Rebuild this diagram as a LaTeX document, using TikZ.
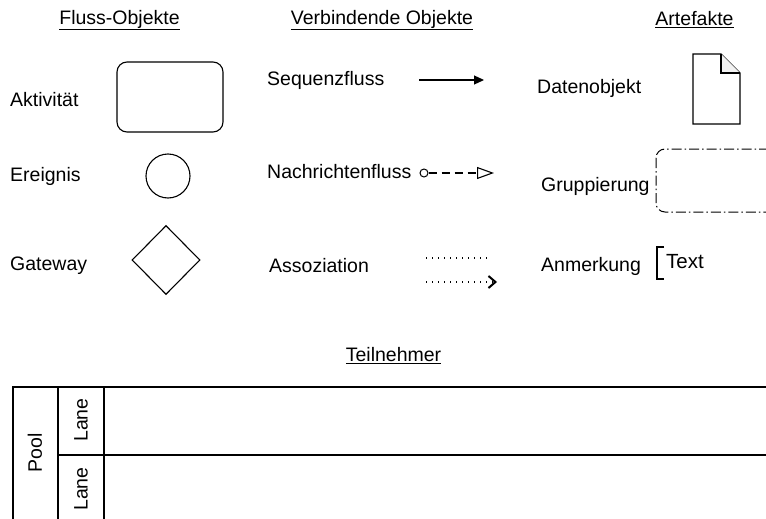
\documentclass[tikz,border=0pt]{standalone}
\usepackage{fontspec}
\setmainfont{Liberation Sans}
\usetikzlibrary{arrows.meta,shapes.geometric}
\begin{document}
\begin{tikzpicture}[x=1pt,y=-1pt,
  lbl/.style={anchor=west,inner sep=0pt,font=\fontsize{19.5}{22}\selectfont},
  hdr/.style={anchor=center,inner sep=0pt,font=\fontsize{19.5}{22}\selectfont},
  shp/.style={draw,line width=1.1pt},
  thin/.style={line width=1.1pt}]
\useasboundingbox (0,0) rectangle (766,519);
\clip (0,0) rectangle (766,519);
% headers
\node[hdr] (h1) at (119.5,20) {\underline{Fluss-Objekte}};
\node[hdr] (h2) at (382,20) {\underline{Verbindende Objekte}};
\node[hdr] (h3) at (694.5,20) {\underline{Artefakte}};
% flow objects
\node[lbl] (akt) at (10,100) {Aktivität};
\node[shp,rounded corners=10pt,minimum width=106pt,minimum height=70pt,inner sep=0pt] (task) at (170,97) {};
\node[lbl] (ere) at (10,176) {Ereignis};
\node[shp,circle,minimum size=44pt,inner sep=0pt] (event) at (168,176) {};
\node[lbl] (gat) at (10,266) {Gateway};
\node[shp,diamond,minimum width=68pt,minimum height=69pt,inner sep=0pt] (gw) at (166,260) {};
% connecting objects
\node[lbl] (seq) at (267,80) {Sequenzfluss};
\coordinate (seqA) at (419,80);
\coordinate (seqB) at (484,80);
\draw[thin,-{Triangle[length=10pt,width=9pt]}] (seqA) -- (seqB);
\node[lbl] (nach) at (267,172) {Nachrichtenfluss};
\node[draw,circle,line width=1pt,minimum size=8pt,inner sep=0pt] (msgA) at (424,173) {};
\coordinate (msgB) at (494,173);
\draw[thin,dash pattern=on 8pt off 5pt,-{Triangle[open,length=17pt,width=12pt,line width=1.1pt]}] (msgA) -- (msgB);
\node[lbl] (ass) at (269,266) {Assoziation};
\coordinate (asA) at (426,258);
\coordinate (asB) at (491,258);
\coordinate (asC) at (426,282);
\coordinate (asD) at (497,282);
\draw[line width=1.5pt,dash pattern=on 1.3pt off 4.7pt] (asA) -- (asB);
\draw[line width=1.5pt,dash pattern=on 1.3pt off 4.7pt,-{Straight Barb[length=7pt,width=12pt,line width=2pt]}] (asC) -- (asD);
% artifacts
\node[lbl] (dat) at (537,88) {Datenobjekt};
\coordinate (d1) at (693,54);
\coordinate (d2) at (721,54);
\coordinate (d3) at (740,73);
\coordinate (d4) at (740,124);
\coordinate (d5) at (693,124);
\coordinate (d6) at (721,73);
\draw[thin,fill=white] (d1) -- (d2) -- (d3) -- (d4) -- (d5) -- cycle;
\draw[thin,fill=black!5] (d2) -- (d6) -- (d3);
\node[lbl] (grp) at (541,186) {Gruppierung};
\coordinate (g1) at (656,149);
\coordinate (g2) at (800,212);
\draw[line width=1pt,rounded corners=9pt,dash pattern=on 10pt off 3pt on 1.5pt off 3pt] (g1) rectangle (g2);
\node[lbl] (anm) at (541,266) {Anmerkung};
\coordinate (b1) at (664,247);
\coordinate (b2) at (657,247);
\coordinate (b3) at (657,279);
\coordinate (b4) at (664,279);
\draw[thin] (b1) -- (b2) -- (b3) -- (b4);
\node[lbl,font=\fontsize{20.5}{22}\selectfont] (txt) at (666,262) {Text};
% participants
\node[hdr] (h4) at (393.5,356) {\underline{Teilnehmer}};
\coordinate (p1) at (13,387);
\coordinate (p2) at (800,540);
\coordinate (v1a) at (58,387);
\coordinate (v1b) at (58,540);
\coordinate (v2a) at (104,387);
\coordinate (v2b) at (104,540);
\coordinate (la) at (58,455);
\coordinate (lb) at (800,455);
\draw[thin] (p1) rectangle (p2);
\draw[thin] (v1a) -- (v1b);
\draw[thin] (v2a) -- (v2b);
\draw[thin] (la) -- (lb);
\node[hdr,rotate=90] (pool) at (35,453) {Pool};
\node[hdr,rotate=90] (lane1) at (81,420) {Lane};
\node[hdr,rotate=90] (lane2) at (81,489) {Lane};
\end{tikzpicture}
\end{document}
